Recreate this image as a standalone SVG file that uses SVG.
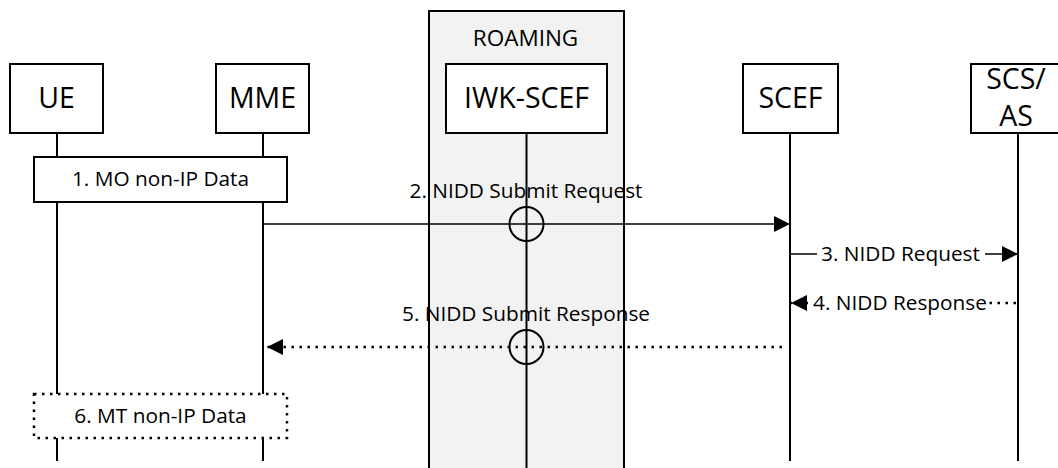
<svg xmlns="http://www.w3.org/2000/svg" width="1058" height="468" viewBox="0 0 1058 468">
<style>
text{font-family:"Open Sans","Liberation Sans",sans-serif;fill:#000;text-anchor:middle}
.node{fill:#fff;stroke:#000;stroke-width:2}
.nl{font-size:28.5px}
.ml{font-size:20.8px}
.life{stroke:#000;stroke-width:2;fill:none}
.msg{stroke:#000;stroke-width:1.6;fill:none}
.dot{stroke:#000;stroke-width:2.5;fill:none;stroke-dasharray:2.5 5.5}
.ring{fill:none;stroke:#000;stroke-width:2}
.bg{fill:#fff}
</style>
<defs>
<marker id="ah" markerUnits="userSpaceOnUse" markerWidth="17" markerHeight="16" refX="16" refY="8" orient="auto">
<path d="M0,0 L16,8 L0,16 z" fill="#000"/>
</marker>
</defs>
<g id="roaming">
<rect x="429" y="11" width="195" height="470" fill="#f2f2f2" stroke="#000" stroke-width="2"/>
<text x="525.5" y="46" style="font-size:22.5px">ROAMING</text>
</g>
<g id="lifelines">
<line class="life" x1="57" y1="133" x2="57" y2="461"/>
<line class="life" x1="263" y1="133" x2="263" y2="461"/>
<line class="life" x1="526.5" y1="133" x2="526.5" y2="468"/>
<line class="life" x1="790" y1="133" x2="790" y2="461"/>
<line class="life" x1="1018" y1="133" x2="1018" y2="461"/>
</g>
<g id="UE">
<rect class="node" x="10" y="64" width="93" height="69"/>
<text class="nl" x="56.5" y="108">UE</text>
</g>
<g id="MME">
<rect class="node" x="216" y="64" width="93" height="69"/>
<text class="nl" x="262.5" y="108">MME</text>
</g>
<g id="IWK-SCEF">
<rect class="node" x="446" y="64" width="161" height="69"/>
<text class="nl" x="526.5" y="108">IWK-SCEF</text>
</g>
<g id="SCEF">
<rect class="node" x="743" y="64" width="95" height="69"/>
<text class="nl" x="790.5" y="108">SCEF</text>
</g>
<g id="SCS-AS">
<rect class="node" x="971" y="64" width="100" height="69"/>
<text class="nl" x="1016" y="89">SCS/</text>
<text class="nl" x="1016" y="126">AS</text>
</g>
<g id="step1">
<rect class="node" x="34" y="157" width="253" height="45"/>
<text class="ml" x="160.5" y="186">1. MO non-IP Data</text>
</g>
<g id="step6">
<rect x="34" y="394" width="253" height="44" fill="#fff" stroke="#000" stroke-width="2.5" stroke-dasharray="2.5 5.5"/>
<text class="ml" x="160.5" y="423">6. MT non-IP Data</text>
</g>
<g id="connectors">
<line class="msg" x1="263" y1="224" x2="790" y2="224" marker-end="url(#ah)"/>
<circle class="ring" cx="526.5" cy="224" r="17"/>
<text class="ml" x="526" y="198">2. NIDD Submit Request</text>
<line class="msg" x1="790" y1="254" x2="1018" y2="254" marker-end="url(#ah)"/>
<rect class="bg" x="817" y="243" width="168" height="24"/>
<text class="ml" x="900.5" y="261">3. NIDD Request</text>
<line class="dot" x1="1016" y1="303" x2="791" y2="303" marker-end="url(#ah)"/>
<rect class="bg" x="812" y="291" width="176" height="25"/>
<text class="ml" x="900" y="310">4. NIDD Response</text>
<line class="dot" x1="782" y1="347" x2="267" y2="347" marker-end="url(#ah)"/>
<circle class="ring" cx="526.5" cy="347" r="17"/>
<text class="ml" x="526" y="321">5. NIDD Submit Response</text>
</g>
</svg>
